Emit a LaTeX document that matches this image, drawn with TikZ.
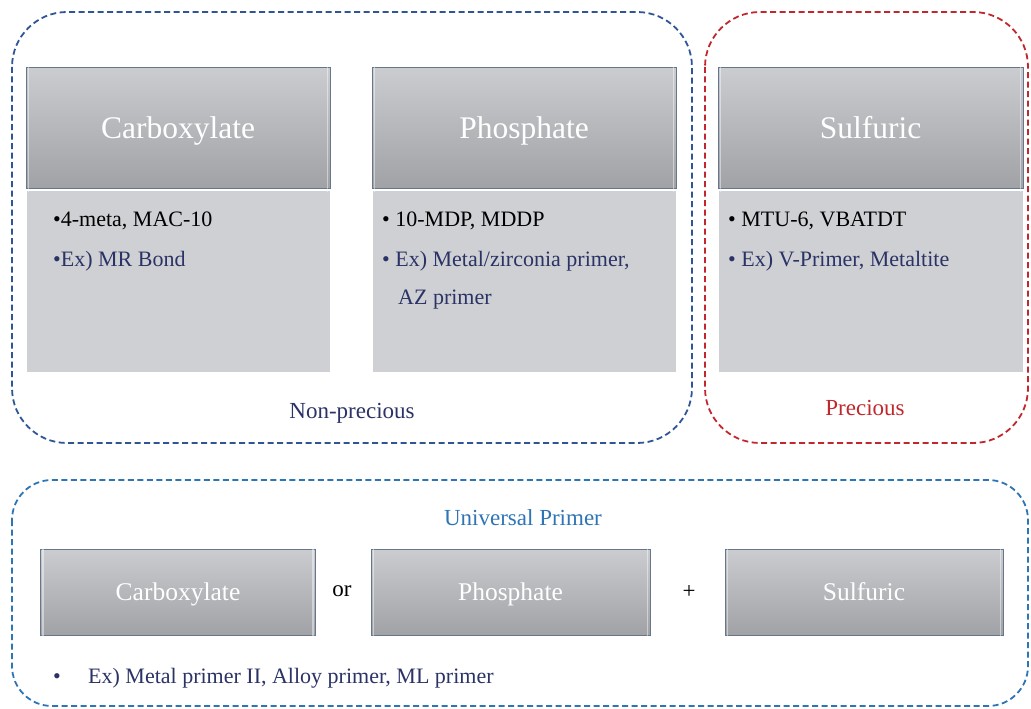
\documentclass[tikz,border=0pt]{standalone}
\usepackage{fontspec}
\setmainfont{Liberation Serif}
\usetikzlibrary{positioning}
\definecolor{navyb}{HTML}{2F5597}
\definecolor{redb}{HTML}{C0282D}
\definecolor{lblue}{HTML}{2E75B6}
\definecolor{navyt}{HTML}{2B3366}
\definecolor{hdrtop}{HTML}{CBCCCF}
\definecolor{hdrbot}{HTML}{A0A2A6}
\definecolor{bodyfill}{HTML}{CFD0D3}
\definecolor{edge}{HTML}{66768C}
\tikzset{
  grp/.style={draw, dashed, dash pattern=on 6pt off 3.5pt, line width=1.8pt, rounded corners=#1},
  hdr/.style={draw=edge, line width=1pt, top color=hdrtop, bottom color=hdrbot, text=white, font=\fontsize{31.5}{36}\selectfont, inner sep=0pt, text height=22pt, text depth=1pt},
  smallhdr/.style={hdr, font=\fontsize{25.5}{30}\selectfont, text height=18pt, text depth=1pt},
  bodybox/.style={fill=bodyfill, draw=white, line width=1pt, inner sep=0pt},
  itm/.style={anchor=west, inner sep=0pt, font=\fontsize{22}{26}\selectfont, text height=15.5pt, text depth=1pt},
  lbl/.style={inner sep=0pt, font=\fontsize{23}{28}\selectfont, text height=16pt, text depth=1pt},
  bevel/.style={white, opacity=0.45, line width=1.5pt},
}
\begin{document}
\begin{tikzpicture}[x=1pt,y=-1pt]
\useasboundingbox[fill=white] (0,0) rectangle (1031,709);
% group containers
\draw[grp=55pt, navyb] (12,12) rectangle (692,443);
\draw[grp=55pt, redb] (705,12) rectangle (1028,443);
\draw[grp=40pt, lblue] (12,480) rectangle (1028,706);
% body boxes
\node[bodybox, minimum width=304pt, minimum height=182pt] (cb) at (178,281) {};
\node[bodybox, minimum width=304pt, minimum height=182pt] (pb) at (524,281) {};
\node[bodybox, minimum width=305pt, minimum height=182pt] (sb) at (870.5,281) {};
% headers
\node[hdr, minimum width=304pt, minimum height=120pt] (ch) at (178,128) {Carboxylate};
\node[hdr, minimum width=304pt, minimum height=120pt] (ph) at (524,128) {Phosphate};
\node[hdr, minimum width=305pt, minimum height=120pt] (sh) at (870.5,128) {Sulfuric};
% bottom row
\node[smallhdr, minimum width=275pt, minimum height=86pt] (uc) at (178,592) {Carboxylate};
\node[smallhdr, minimum width=279pt, minimum height=86pt] (upp) at (510.5,592) {Phosphate};
\node[smallhdr, minimum width=278pt, minimum height=86pt] (us) at (864,592) {Sulfuric};
% bevel highlights
\foreach \n in {ch,ph,sh,uc,upp,us}{
  \draw[bevel] ([shift={(3pt,-3pt)}]\n.south west) -- ([shift={(3pt,3pt)}]\n.north west) -- ([shift={(-3pt,3pt)}]\n.north east) -- ([shift={(-3pt,-3pt)}]\n.south east);
}
% body texts
\node[itm] (c1) at (53,219) {•4-meta, MAC-10};
\node[itm, text=navyt] (c2) at (53,259) {•Ex) MR Bond};
\node[itm] (p1) at (382,219) {• 10-MDP, MDDP};
\node[itm, text=navyt] (p2) at (382,259) {• Ex) Metal/zirconia primer,};
\node[itm, text=navyt] (p3) at (398,297) {AZ primer};
\node[itm] (s1) at (728,219) {• MTU-6, VBATDT};
\node[itm, text=navyt] (s2) at (728,259) {• Ex) V-Primer, Metaltite};
% group labels
\node[lbl, text=navyt] (np) at (352,411) {Non-precious};
\node[lbl, text=redb] (pr) at (865,408) {Precious};
\node[lbl, text=lblue] (up) at (523,518) {Universal Primer};
\node[lbl] (or) at (342,589) {or};
\node[lbl] (plus) at (689,591) {+};
\node[itm, text=navyt] (ub) at (53,676) {•};
\node[itm, text=navyt] (ut) at (88,676) {Ex) Metal primer II, Alloy primer, ML primer};
\end{tikzpicture}
\end{document}
